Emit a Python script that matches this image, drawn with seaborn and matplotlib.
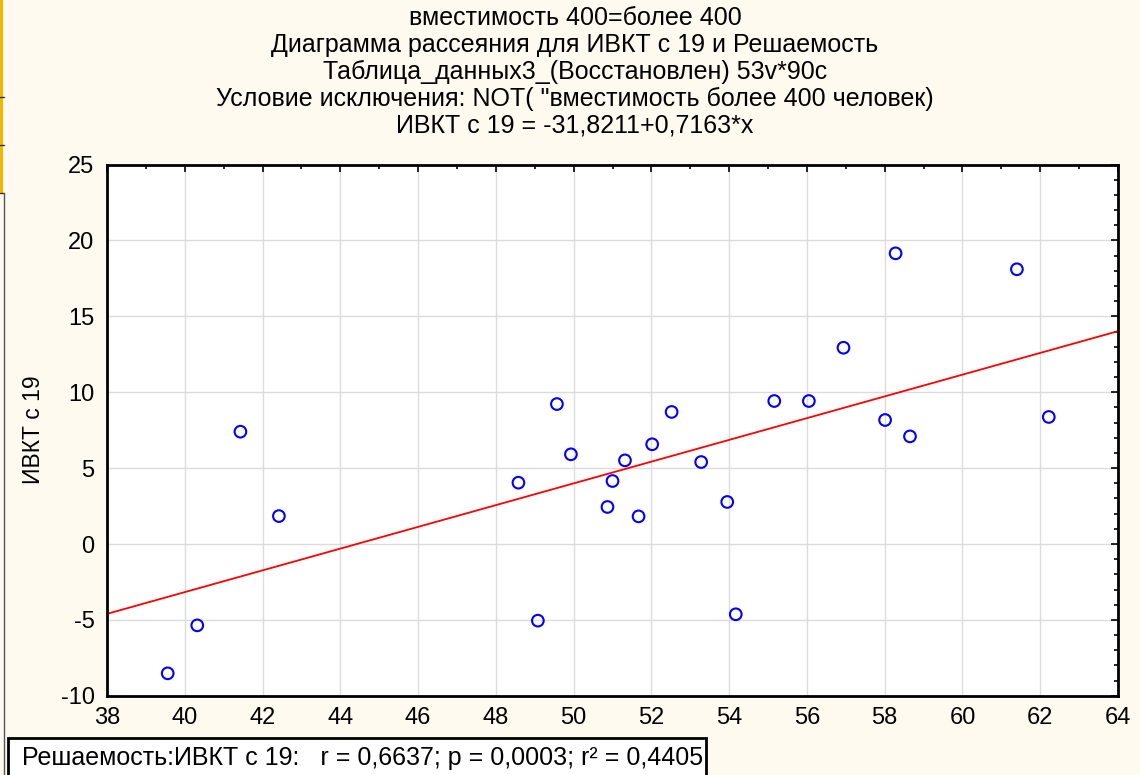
import numpy as np
import pandas as pd
import seaborn as sns
import matplotlib.pyplot as plt
from matplotlib.patches import Rectangle
from matplotlib.ticker import MultipleLocator

sns.set_style('white')
plt.rcParams['font.family'] = ['Liberation Sans', 'DejaVu Sans']
plt.rcParams['axes.unicode_minus'] = False
plt.rcParams['text.color'] = 'black'
plt.rcParams['axes.labelcolor'] = 'black'
plt.rcParams['xtick.color'] = 'black'
plt.rcParams['ytick.color'] = 'black'

# данные
reshaemost = [39.56, 40.32, 41.43, 42.42, 48.58, 49.08, 49.57, 49.93, 50.87, 51.00,
              51.32, 51.67, 52.02, 52.52, 53.28, 53.95, 54.17, 55.16, 56.05, 56.94,
              58.01, 58.28, 58.65, 61.40, 62.22]
ivkt19 = [-8.52, -5.36, 7.40, 1.84, 4.04, -5.05, 9.22, 5.91, 2.44, 4.15,
          5.51, 1.82, 6.57, 8.70, 5.40, 2.77, -4.63, 9.42, 9.42, 12.93,
          8.17, 19.15, 7.09, 18.10, 8.37]
intercept = -31.8211
slope = 0.7163
x_ticks = [38, 40, 42, 44, 46, 48, 50, 52, 54, 56, 58, 60, 62, 64]
y_ticks = [-10, -5, 0, 5, 10, 15, 20, 25]

title_lines = ['вместимость 400=более 400',
               'Диаграмма рассеяния для ИВКТ с 19 и Решаемость',
               'Таблица_данных3_(Восстановлен) 53v*90c',
               'Условие исключения: NOT( "вместимость более 400 человек)',
               'ИВКТ с 19 = -31,8211+0,7163*x']
stats_text = 'Решаемость:ИВКТ с 19:   r = 0,6637; p = 0,0003; r² = 0,4405'

df = pd.DataFrame({'x': reshaemost, 'y': ivkt19})
line = pd.DataFrame({'x': [x_ticks[0], x_ticks[-1]]})
line['y'] = intercept + slope * line['x']

bg = '#fffaf0'
fig = plt.figure(figsize=(11.4, 7.75), dpi=100, facecolor=bg)
ax = fig.add_axes([0.0939, 0.1022, 0.8868, 0.6855])
ax.set_facecolor('white')

sns.lineplot(data=line, x='x', y='y', color='red', linewidth=1.3, ax=ax, zorder=2)
sns.scatterplot(data=df, x='x', y='y', marker='o', s=70, facecolors='none',
                edgecolor='blue', linewidth=1.5, ax=ax, zorder=3)

ax.set_xlim(x_ticks[0], x_ticks[-1])
ax.set_ylim(y_ticks[0], y_ticks[-1])
ax.set_xticks(x_ticks)
ax.set_yticks(y_ticks)
ax.xaxis.set_minor_locator(MultipleLocator(1))
ax.yaxis.set_minor_locator(MultipleLocator(1))
ax.grid(True, which='major', color='#dcdcdc', linewidth=1.0)
ax.set_axisbelow(True)
ax.tick_params(which='both', direction='in', top=True, right=True,
               labelsize=17, color='black', labelcolor='black', width=1.2)
ax.tick_params(which='major', length=5)
ax.tick_params(which='minor', length=3)
ax.tick_params(axis='x', which='major', pad=8)
ax.tick_params(axis='y', which='major', pad=9)
for s in ax.spines.values():
    s.set_color('black')
    s.set_linewidth(2)
ax.set_xlabel('')
ax.set_ylabel('ИВКТ с 19', fontsize=16.5, color='black')
ax.yaxis.set_label_coords(-0.061, 0.5)

for i, t in enumerate(title_lines):
    fig.text(575 / 1140, 1 - (18 + 27 * i) / 775, t, ha='center', va='center', fontsize=18)

# рамка со статистикой внизу
fig.patches.append(Rectangle((8 / 1140, -0.01), 698 / 1140, 0.0575, transform=fig.transFigure,
                             facecolor='white', edgecolor='black', linewidth=2))
fig.text(22 / 1140, 1 - 758 / 775, stats_text, ha='left', va='center', fontsize=18)

# край окна слева
fig.patches.append(Rectangle((0, 1 - 193 / 775), 3 / 1140, 193 / 775, transform=fig.transFigure,
                             facecolor='#f7b500', edgecolor='none'))
for yy in [97, 145, 193]:
    fig.lines.append(plt.Line2D([0, 4 / 1140], [1 - yy / 775] * 2, transform=fig.transFigure,
                                color='#333333', linewidth=1))
fig.lines.append(plt.Line2D([3.5 / 1140] * 2, [1 - 193 / 775, 0], transform=fig.transFigure,
                            color='#555555', linewidth=1))

fig.savefig('out.png', dpi=100, facecolor=bg)
